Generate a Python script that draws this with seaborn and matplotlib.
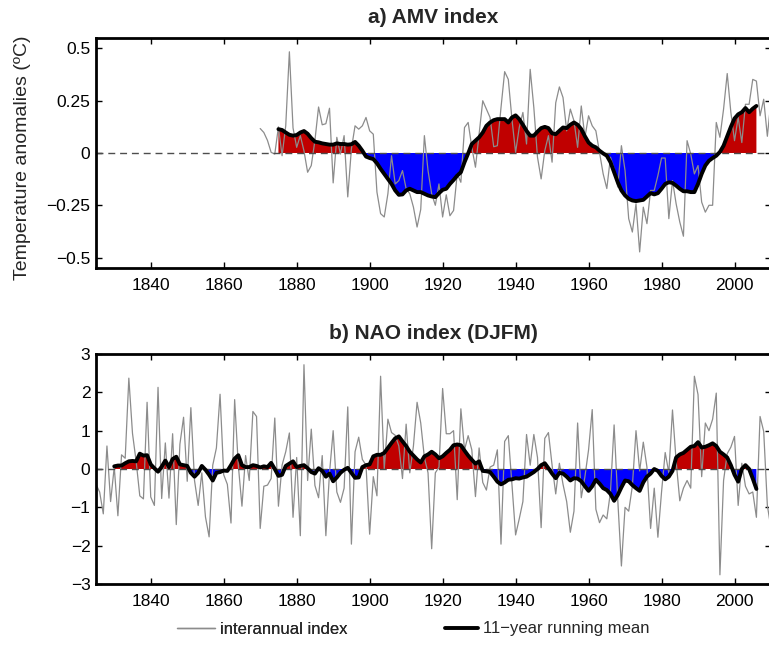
import numpy as np
import pandas as pd
import matplotlib
matplotlib.use("Agg")
import matplotlib.pyplot as plt
from matplotlib.lines import Line2D
import seaborn as sns

# ---------------- data ----------------
amv_years = list(range(1870, 2012))
amv_index = [
    0.117, 0.098, 0.06, 0.003, -0.005, 0.125, -0.013, 0.13, 0.484, 0.12,
    0.027, 0.083, 0.01, -0.092, -0.06, 0.06, 0.22, 0.135, 0.14, 0.214,
    -0.143, 0.075, -0.005, 0.083, -0.21, 0.02, 0.13, 0.114, 0.13, 0.17,
    0.106, 0.09, -0.187, -0.29, -0.306, -0.195, -0.013, -0.148, -0.132, -0.084,
    -0.171, -0.195, -0.259, -0.354, -0.27, 0.083, -0.084, -0.195, -0.25, -0.148,
    -0.306, -0.2, -0.3, -0.275, -0.1, -0.14, 0.122, 0.146, 0.027, -0.068,
    0.09, 0.25, 0.21, 0.17, 0.03, 0.035, 0.217, 0.389, 0.352, 0.162,
    0.003, 0.122, 0.194, 0.043, 0.4, 0.217, -0.02, -0.124, 0.011, 0.083,
    -0.044, 0.24, 0.316, 0.265, 0.106, 0.21, 0.154, 0.027, 0.225, 0.075,
    0.178, 0.13, 0.106, 0.003, -0.1, -0.17, -0.02, -0.076, -0.163, 0.035,
    -0.084, -0.314, -0.378, -0.243, -0.473, -0.259, -0.338, -0.179, -0.179, -0.108,
    -0.024, -0.024, -0.314, -0.132, -0.243, -0.33, -0.398, 0.059, -0.005, -0.1,
    -0.06, -0.235, -0.283, -0.25, -0.25, 0.146, 0.075, 0.21, 0.38, 0.194,
    0.059, 0.17, 0.05, 0.233, 0.233, 0.352, 0.344, 0.178, 0.257, 0.08,
    0.25, 0.2,
]
amv_rm_years = list(range(1875, 2007))
amv_running = [
    0.114, 0.11, 0.098, 0.087, 0.083,
    0.086, 0.098, 0.105, 0.092, 0.071, 0.054, 0.051, 0.046, 0.043, 0.04,
    0.04, 0.046, 0.043, 0.043, 0.04, 0.042, 0.053, 0.035, 0.011, -0.017,
    -0.024, -0.029, -0.049, -0.076, -0.1, -0.124, -0.148, -0.179, -0.2, -0.198,
    -0.179, -0.171, -0.179, -0.187, -0.187, -0.195, -0.203, -0.208, -0.211, -0.192,
    -0.176, -0.171, -0.148, -0.129, -0.108, -0.092, -0.044, -0.002, 0.043, 0.059,
    0.075, 0.098, 0.13, 0.146, 0.157, 0.162, 0.162, 0.162, 0.146, 0.17,
    0.18, 0.162, 0.135, 0.106, 0.083, 0.083, 0.102, 0.119, 0.125, 0.119,
    0.094, 0.09, 0.106, 0.122, 0.119, 0.135, 0.146, 0.135, 0.114, 0.08,
    0.05, 0.035, 0.027, 0.011, -0.002, -0.013, -0.044, -0.092, -0.14, -0.179,
    -0.203, -0.219, -0.227, -0.23, -0.227, -0.224, -0.208, -0.192, -0.198, -0.192,
    -0.171, -0.148, -0.14, -0.143, -0.156, -0.171, -0.183, -0.183, -0.187, -0.187,
    -0.148, -0.1, -0.06, -0.037, -0.024, -0.013, 0.005, 0.035, 0.08, 0.125,
    0.165, 0.185, 0.195, 0.215, 0.195, 0.212, 0.225,
]

nao_years = list(range(1825, 2012))
nao_index = [
    -0.4, -0.6, -1.17, 0.6, -0.85,
    0.05, -1.22, 0.37, 0.28, 2.37, 0.93, 0.2, -0.7, -0.78, 1.74,
    -0.73, -0.95, 2.13, -0.77, 0.68, -0.76, 0.92, -1.45, 0.65, 1.35,
    -0.32, 1.6, -0.3, -0.95, -0.1, -1.25, -1.77, 0.1, 0.55, 1.95,
    -0.15, -0.4, -1.41, 1.81, 0.1, -0.97, 0.35, -0.3, 1.5, 1.37,
    -1.55, -0.45, -0.42, -0.25, 1.33, -0.97, 0.1, 0.45, 0.94, -1.26,
    0.3, -1.74, 2.72, -0.3, 1.04, -0.43, -0.75, 0.35, -1.74, -0.1,
    1.0, -0.6, -0.87, -0.5, 1.62, -1.96, 0.45, 0.83, 0.25, 0.1,
    -1.7, -0.2, -0.7, 2.42, 0.0, 1.3, 0.95, 0.88, 0.6, -0.25,
    1.17, -0.1, 0.6, 1.74, 1.2, 0.3, -0.1, -2.08, -0.1, 0.05,
    2.1, 0.92, 0.92, 1.0, -0.8, 1.57, 0.5, 0.87, 0.5, -0.72,
    0.55, -0.35, -0.55, 0.05, 0.1, 0.5, -1.96, 0.72, 0.87, -0.4,
    -1.72, -1.3, -0.85, 0.9, 0.1, 0.9, 0.3, -1.53, 0.8, 0.95,
    0.1, -0.65, 0.15, -0.4, -0.85, -1.65, -1.1, 1.2, -0.75, -0.2,
    0.5, 1.55, -1.05, -1.4, -1.2, -1.3, -0.6, 1.15, -0.8, -2.53,
    -1.0, -1.1, -0.45, 1.0, -0.05, 0.7, 0.05, -1.55, -0.5, -1.78,
    -0.6, 0.43, -0.1, 1.54, 0.2, -0.83, -0.5, -0.3, -0.5, 2.42,
    1.94, -0.2, 1.2, 1.0, 1.3, 1.98, -2.76, -0.3, 0.4, 0.57,
    0.85, -0.95, 0.15, -0.45, -0.65, -0.6, -1.26, 1.37, 0.98, -0.95,
    -1.55, 0.5,
]
nao_rm_years = list(range(1830, 2007))
nao_running = [
    0.07, 0.09, 0.09, 0.15, 0.2, 0.21, 0.2, 0.4, 0.35, 0.36,
    0.12, 0.02, -0.07, 0.06, 0.22, 0.05, 0.26, 0.32, 0.12, 0.1,
    0.08, -0.1, -0.2, -0.1, 0.08, -0.02, -0.15, -0.3, -0.1, -0.08,
    -0.04, -0.05, 0.1, 0.27, 0.36, 0.1, 0.05, 0.05, 0.1, 0.08,
    0.04, 0.07, 0.05, 0.16, 0.0, -0.18, -0.15, 0.08, 0.14, 0.2,
    0.05, 0.08, 0.1, 0.02, -0.08, -0.12, 0.02, -0.05, -0.2, -0.12,
    -0.32, -0.22, -0.1, -0.02, 0.03, -0.1, -0.23, -0.22, 0.05, 0.1,
    0.12, 0.33, 0.37, 0.37, 0.42, 0.55, 0.68, 0.8, 0.85, 0.72,
    0.6, 0.45, 0.35, 0.25, 0.17, 0.33, 0.38, 0.45, 0.38, 0.28,
    0.33, 0.42, 0.5, 0.62, 0.64, 0.62, 0.48, 0.35, 0.24, 0.14,
    0.2, -0.05, -0.06, -0.08, -0.2, -0.33, -0.4, -0.35, -0.28, -0.27,
    -0.24, -0.25, -0.22, -0.2, -0.14, -0.08, 0.0, 0.1, 0.15, 0.02,
    -0.12, -0.24, -0.1, -0.12, -0.2, -0.3, -0.24, -0.25, -0.32, -0.45,
    -0.57, -0.45, -0.28, -0.38, -0.5, -0.55, -0.65, -0.83, -0.68, -0.48,
    -0.3, -0.32, -0.42, -0.5, -0.57, -0.35, -0.2, -0.12, 0.0, -0.05,
    -0.18, -0.27, -0.2, -0.05, 0.3, 0.38, 0.42, 0.5, 0.58, 0.6,
    0.7, 0.56, 0.58, 0.62, 0.67, 0.6, 0.45, 0.38, 0.3, 0.1,
    -0.15, -0.33, 0.0, 0.1, 0.0, -0.25, -0.52,
]

x_ticks = [1840, 1860, 1880, 1900, 1920, 1940, 1960, 1980, 2000]
amv_yticks = [-0.5, -0.25, 0, 0.25, 0.5]
amv_yticklabels = ["\u22120.5", "\u22120.25", "0", "0.25", "0.5"]
nao_yticks = [-3, -2, -1, 0, 1, 2, 3]
titles = ["a) AMV index", "b) NAO index (DJFM)"]
ylabel_text = "Temperature anomalies (\u00baC)"
legend_labels = ["interannual index", "11\u2212year running mean"]

assert len(amv_index) == len(amv_years)
assert len(amv_running) == len(amv_rm_years)
assert len(nao_index) == len(nao_years)
assert len(nao_running) == len(nao_rm_years)

# ---------------- style ----------------
sns.set_theme(style="ticks")
plt.rcParams["font.family"] = ["Liberation Sans", "DejaVu Sans"]
plt.rcParams["axes.unicode_minus"] = True

RED = "#C00000"
BLUE = "#0000FF"
GRAY = "#8c8c8c"

W, H = 769, 650
fig = plt.figure(figsize=(W / 100, H / 100), dpi=100)

def px_axes(left, top, right, bottom):
    return fig.add_axes([left / W, 1 - bottom / H, (right - left) / W, (bottom - top) / H])

ax1 = px_axes(96, 38, 771, 268)
ax2 = px_axes(96, 354, 771, 584)

def draw_panel(ax, years, values, rm_years, rm_values, ylim, yticks, yticklabels, title):
    df_i = pd.DataFrame({"year": years, "value": values})
    df_r = pd.DataFrame({"year": rm_years, "value": rm_values})
    r = np.asarray(rm_values, dtype=float)
    yr = np.asarray(rm_years, dtype=float)
    ax.fill_between(yr, r, 0, where=r >= 0, interpolate=True, color=RED,
                    linewidth=0, zorder=1)
    ax.fill_between(yr, r, 0, where=r <= 0, interpolate=True, color=BLUE,
                    linewidth=0, zorder=1)
    sns.lineplot(data=df_i, x="year", y="value", ax=ax, color=GRAY,
                 linewidth=0.9, estimator=None, zorder=2)
    ax.axhline(0, color="0.3", linewidth=1.0, linestyle=(0, (5, 3.5)), zorder=2.5)
    sns.lineplot(data=df_r, x="year", y="value", ax=ax, color="black",
                 linewidth=2.8, estimator=None, zorder=3)
    ax.set_xlim(1825, 2010)
    ax.set_ylim(*ylim)
    ax.set_xticks(x_ticks)
    ax.set_xticklabels([str(t) for t in x_ticks])
    ax.set_yticks(yticks)
    ax.set_yticklabels(yticklabels)
    ax.set_xlabel("")
    ax.set_ylabel("")
    for s in ax.spines.values():
        s.set_linewidth(2.0)
        s.set_color("black")
        s.set_visible(True)
    ax.tick_params(direction="in", top=True, right=True, length=4.5, width=1.0,
                   labelsize=12.5, colors="black")
    ax.tick_params(axis="x", pad=7)
    ax.tick_params(axis="y", pad=4)
    ax.set_title(title, fontsize=15, fontweight="bold", pad=11)

draw_panel(ax1, amv_years, amv_index, amv_rm_years, amv_running,
           (-0.55, 0.55), amv_yticks, amv_yticklabels, titles[0])
draw_panel(ax2, nao_years, nao_index, nao_rm_years, nao_running,
           (-3, 3), nao_yticks, [("\u2212" + str(-t)) if t < 0 else str(t) for t in nao_yticks],
           titles[1])

ax1.set_ylabel(ylabel_text, fontsize=14)
ax1.yaxis.set_label_coords((31 - 96) / (771 - 96), 0.48)

leg1 = fig.legend([Line2D([], [], color=GRAY, linewidth=1.0)], [legend_labels[0]],
                  loc="center left", bbox_to_anchor=(177 / W, 1 - 629 / H),
                  frameon=False, fontsize=12, handlelength=2.3, handletextpad=0.25,
                  borderpad=0, borderaxespad=0)
fig.add_artist(leg1)
fig.legend([Line2D([], [], color="black", linewidth=2.8)], [legend_labels[1]],
           loc="center left", bbox_to_anchor=(445 / W, 1 - 629 / H),
           frameon=False, fontsize=12, handlelength=2.0, handletextpad=0.25,
           borderpad=0, borderaxespad=0)

fig.savefig("out.png", dpi=100)
